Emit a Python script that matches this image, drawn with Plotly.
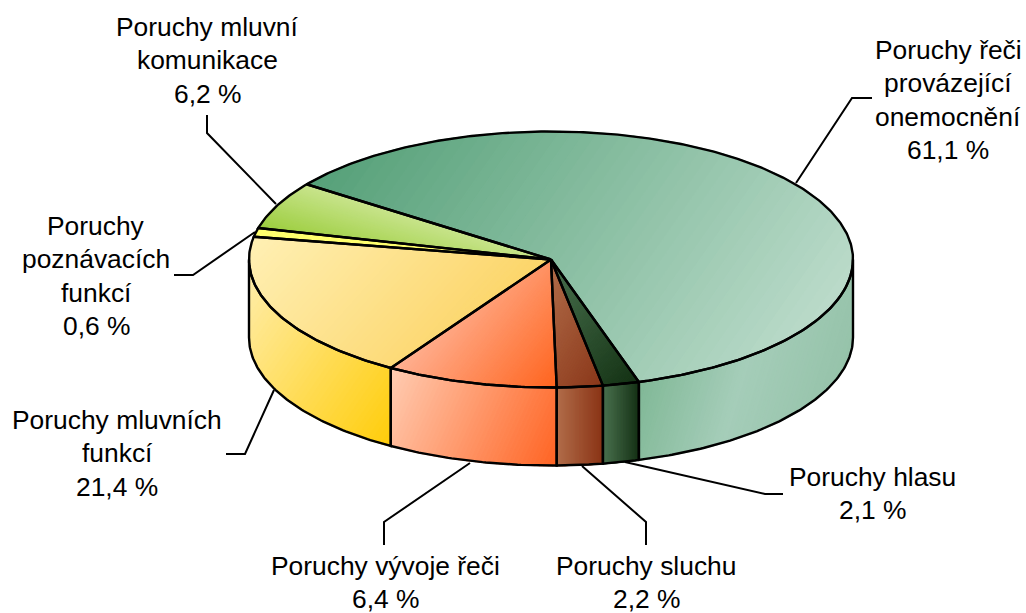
import math
import plotly.graph_objects as go

# ---- data ----
categories = ["Poruchy řeči provázející onemocnění", "Poruchy hlasu", "Poruchy sluchu",
              "Poruchy vývoje řeči", "Poruchy mluvních funkcí",
              "Poruchy poznávacích funkcí", "Poruchy mluvní komunikace"]
labelled_percent = ["61,1 %", "2,1 %", "2,2 %", "6,4 %", "21,4 %", "0,6 %", "6,2 %"]
# share of the drawn rim (perspective distorts the labelled values)
drawn_share = [60.3, 1.95, 2.45, 9.2, 18.95, 1.1, 6.05]
label_lines = [["Poruchy řeči", "provázející", "onemocnění", "61,1 %"],
               ["Poruchy hlasu", "2,1 %"],
               ["Poruchy sluchu", "2,2 %"],
               ["Poruchy vývoje řeči", "6,4 %"],
               ["Poruchy mluvních", "funkcí", "21,4 %"],
               ["Poruchy", "poznávacích", "funkcí", "0,6 %"],
               ["Poruchy mluvní", "komunikace", "6,2 %"]]

# ---- layout / style ----
CX, CY, RX, RY, DEPTH = 551, 259.5, 302, 128, 78
START = 216
label_pos = [(948, 50), (872, 477), (646, 565.5), (385, 565.5), (117, 420), (96, 226), (207, 27)]
LINE_GAP = 33.3
leaders = [[(872, 98), (852, 98), (796, 183)],
           [(783, 494), (765, 494), (625, 462)],
           [(646, 545), (646, 522), (582, 466)],
           [(384, 545), (384, 522), (470, 463)],
           [(226, 454), (245, 454), (274, 390)],
           [(174, 275), (193, 275), (255, 232)],
           [(207, 115), (207, 133), (276, 204)]]
top_grad = [((1, .7), [(85, 160, 120), (187, 219, 202)]),
            ((1, .9), [(75, 115, 80), (20, 50, 20)]),
            ((1, .6), [(178, 110, 75), (138, 55, 25)]),
            ((1, .8), [(255, 178, 148), (255, 100, 30)]),
            ((1, .9), [(255, 240, 180), (252, 213, 105)]),
            ((1, 0), [(255, 255, 110), (255, 255, 110)]),
            ((.3, -1), [(155, 205, 60), (200, 228, 140)])]
side_grad = [((1, .3), [(128, 184, 150), (165, 205, 185), (150, 195, 170)]),
             ((1, 0), [(75, 115, 80), (22, 50, 22)]),
             ((1, 0), [(178, 110, 75), (138, 52, 22)]),
             ((1, .45), [(255, 205, 180), (255, 100, 35)]),
             ((1, .7), [(255, 238, 175), (255, 205, 10)])]
BANDS = 48


def rim(t, dy=0.0):
    a = math.radians(t)
    return CX + RX * math.cos(a), CY + RY * math.sin(a) + dy


def arc(a, b, dy=0.0):
    n = max(2, int(abs(b - a) * 1.5))
    return [rim(a + (b - a) * i / n, dy) for i in range(n + 1)]


def clip(poly, d, s0, s1):
    def half(p, keep):
        out = []
        for i, a in enumerate(p):
            b = p[(i + 1) % len(p)]
            fa, fb = keep(a), keep(b)
            if fa >= 0:
                out.append(a)
            if (fa >= 0) != (fb >= 0):
                u = fa / (fa - fb)
                out.append((a[0] + u * (b[0] - a[0]), a[1] + u * (b[1] - a[1])))
        return out
    r = half(poly, lambda p: p[0] * d[0] + p[1] * d[1] - s0)
    return half(r, lambda p: s1 - p[0] * d[0] - p[1] * d[1]) if r else r


def stop_colour(stops, u):
    x = u * (len(stops) - 1)
    i = min(int(x), len(stops) - 2)
    f = x - i
    return "rgb(%d,%d,%d)" % tuple(round(stops[i][k] + (stops[i + 1][k] - stops[i][k]) * f) for k in range(3))


fig = go.Figure()


def add_face(poly, d, stops):
    ss = [p[0] * d[0] + p[1] * d[1] for p in poly]
    lo, hi = min(ss), max(ss)
    for k in range(BANDS):
        s0 = lo + (hi - lo) * k / BANDS
        s1 = lo + (hi - lo) * (k + 1) / BANDS
        piece = clip(poly, d, s0, s1)
        if len(piece) < 3:
            continue
        col = stop_colour(stops, (k + .5) / BANDS)
        fig.add_trace(go.Scatter(x=[p[0] for p in piece] + [piece[0][0]],
                                 y=[p[1] for p in piece] + [piece[0][1]],
                                 mode="lines", fill="toself", fillcolor=col,
                                 line=dict(color=col, width=1.6), hoverinfo="skip", showlegend=False))


def outline(pts, width=2.4):
    fig.add_trace(go.Scatter(x=[p[0] for p in pts], y=[p[1] for p in pts], mode="lines",
                             line=dict(color="black", width=width), hoverinfo="skip", showlegend=False))


# slice boundaries follow the shares, clockwise from START
bounds = [START]
for v in drawn_share:
    bounds.append(bounds[-1] + v * 3.6)

# side walls: only the part of the rim facing the viewer (0..180 degrees)
sides = []
for i in range(len(drawn_share)):
    a, b = bounds[i], bounds[i + 1]
    for lo, hi in ((360, 540), (0, 180)):
        x0, x1 = max(a, lo), min(b, hi)
        if x1 > x0:
            sides.append((i, x0, x1))
sides.sort(key=lambda s: 0 if s[0] == 0 else 1)
for i, x0, x1 in sides:
    add_face(arc(x0, x1) + arc(x1, x0, DEPTH), *side_grad[i])
for i in range(len(drawn_share)):
    add_face([(CX, CY)] + arc(bounds[i], bounds[i + 1]), *top_grad[i])
for i, x0, x1 in sides:
    outline(arc(x0, x1) + arc(x1, x0, DEPTH) + [rim(x0)])
for i in range(len(drawn_share)):
    outline([(CX, CY)] + arc(bounds[i], bounds[i + 1]) + [(CX, CY)])

for pts in leaders:
    outline(pts, 2)

for lines, (x, y0) in zip(label_lines, label_pos):
    for j, t in enumerate(lines):
        fig.add_annotation(x=x, y=y0 + j * LINE_GAP, text=t, showarrow=False, xanchor="center",
                           yanchor="middle", font=dict(family="Liberation Sans", size=26.4, color="black"))

fig.update_xaxes(range=[0, 1026], visible=False, fixedrange=True)
fig.update_yaxes(range=[613, 0], visible=False, fixedrange=True)
fig.update_layout(width=1026, height=613, margin=dict(l=0, r=0, t=0, b=0), showlegend=False,
                  paper_bgcolor="white", plot_bgcolor="white")
fig.write_html("out.html", post_script="document.body.style.margin='0';", config={"displayModeBar": False})
